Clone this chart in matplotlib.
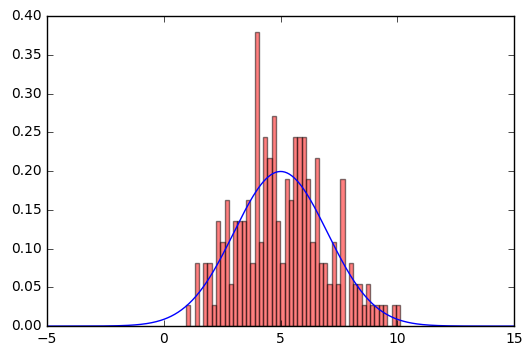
"""
Histogram of 200-ish samples (density normalised) with the normal
pdf they were drawn from laid over it.
"""

import matplotlib
matplotlib.use('Agg')
import matplotlib.pyplot as plt
import numpy as np


# counts per bin (50 bins)
BIN_COUNTS = [
    1, 0, 3, 0, 3, 3, 1, 5, 4, 6,
    2, 5, 5, 5, 6, 3, 14, 4, 9, 8,
    10, 5, 3, 7, 6, 9, 9, 9, 7, 4,
    8, 3, 3, 2, 4, 2, 7, 0, 3, 2,
    2, 1, 2, 1, 1, 1, 1, 0, 1, 1,
]
BIN_START = 0.95
BIN_END = 10.12

MU = 5.0
SIGMA = 2.0

X_TICKS = [-5, 0, 5, 10, 15]
Y_TICKS = [0.00, 0.05, 0.10, 0.15, 0.20, 0.25, 0.30, 0.35, 0.40]


def main():

    plt.style.use('classic')
    plt.rcParams['font.size'] = 10

    fig = plt.figure(figsize=(5.3, 3.56), dpi=100)
    fig.subplots_adjust(left=0.089, right=0.970, bottom=0.084, top=0.955)
    axes = fig.add_subplot(111)

    edges = np.linspace(BIN_START, BIN_END, len(BIN_COUNTS) + 1)
    centers = (edges[:-1] + edges[1:]) / 2
    axes.hist(
        centers, bins=edges, weights=BIN_COUNTS, density=True,
        facecolor='red', alpha=0.5)

    x = np.linspace(-5, 15, 400)
    pdf = np.exp(-(x - MU) ** 2 / (2 * SIGMA ** 2)) / (SIGMA * np.sqrt(2 * np.pi))
    axes.plot(x, pdf, 'b-', linewidth=1)

    axes.set_xlim(-5, 15)
    axes.set_ylim(0, 0.40)
    axes.set_xticks(X_TICKS)
    axes.set_yticks(Y_TICKS)
    axes.set_yticklabels([f'{t:.2f}' for t in Y_TICKS])

    fig.savefig('out.png', dpi=100)


if __name__ == '__main__':
    main()
